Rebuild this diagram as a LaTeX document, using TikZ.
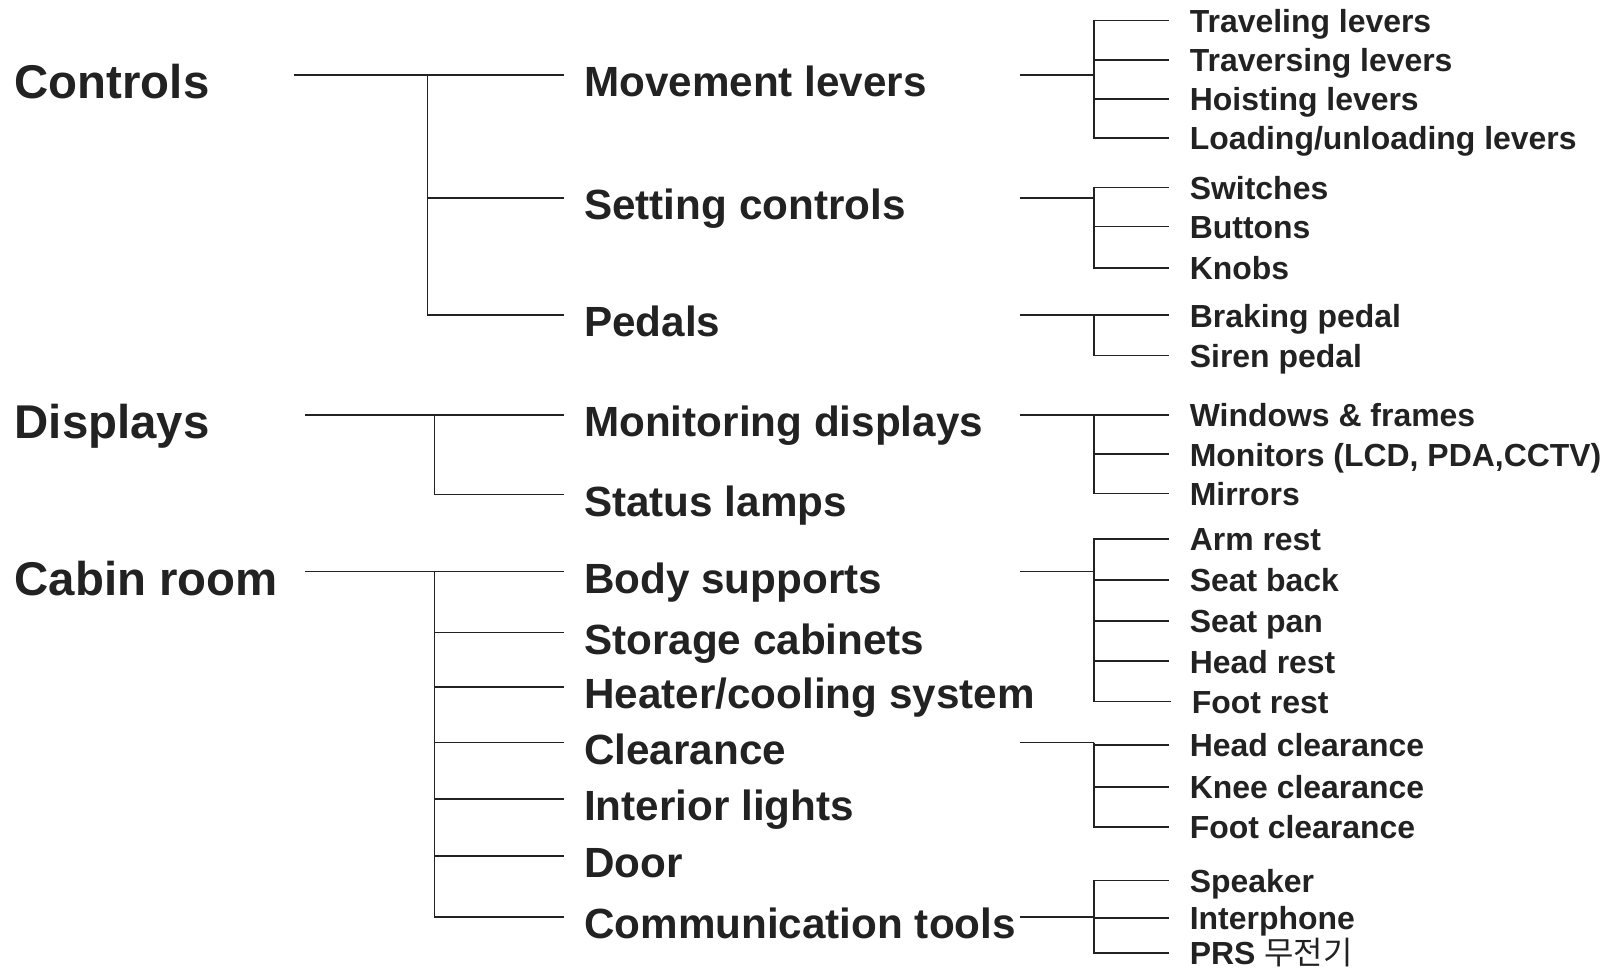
\documentclass[tikz,border=0pt]{standalone}
\usepackage{fontspec}
\setmainfont{Liberation Sans}
\newfontfamily\korfont{Noto Sans CJK KR}
\usepackage{tikz}
\usetikzlibrary{positioning,calc}
\definecolor{ink}{HTML}{222222}

\begin{document}
\begin{tikzpicture}[
    x=1pt, y=-1pt,
    every node/.style={text=ink, anchor=west, inner ysep=0pt, text depth=0pt},
    top/.style={font=\fontsize{46}{50}\selectfont\bfseries, inner xsep=0pt, text height=46pt},
    mid/.style={font=\fontsize{41}{46}\selectfont\bfseries, inner xsep=19pt, text height=42pt},
    leaf/.style={font=\fontsize{31}{35}\selectfont\bfseries, inner xsep=20pt, text height=23pt},
    link/.style={draw=ink, line width=1.6pt},
]
\useasboundingbox (0,0) rectangle (1568,942);

% Controls
\node[top] (ctl) at (14,73) {Controls};
\node[mid] (mov) at (548,73) {Movement levers};
\node[mid] (set) at (548,192) {Setting controls};
\node[mid] (pdl) at (548,306) {Pedals};

\node[leaf] (trv) at (1135,20) {Traveling levers};
\node[leaf] (trs) at (1135,58) {Traversing levers};
\node[leaf] (hoi) at (1135,96) {Hoisting levers};
\node[leaf] (lod) at (1135,134) {Loading/unloading levers};
\node[leaf] (swi) at (1135,182) {Switches};
\node[leaf] (but) at (1135,220) {Buttons};
\node[leaf] (kno) at (1135,260) {Knobs};
\node[leaf] (brk) at (1135,306) {Braking pedal};
\node[leaf] (sir) at (1135,345) {Siren pedal};

% Displays
\node[top] (dsp) at (14,403) {Displays};
\node[mid] (mon) at (548,403) {Monitoring displays};
\node[mid] (lmp) at (548,480) {Status lamps};

\node[leaf] (win) at (1135,403) {Windows \& frames};
\node[leaf] (lcd) at (1135,441) {Monitors (LCD, PDA,CCTV)};
\node[leaf] (mir) at (1135,479) {Mirrors};

% Cabin room
\node[top] (cab) at (14,555) {Cabin room};
\node[mid] (bod) at (548,555) {Body supports};
\node[mid] (sto) at (548,614) {Storage cabinets};
\node[mid] (hea) at (548,667) {Heater/cooling system};
\node[mid] (clr) at (548,721) {Clearance};
\node[mid] (lgt) at (548,776) {Interior lights};
\node[mid] (dor) at (548,831) {Door};
\node[mid] (com) at (548,890) {Communication tools};

\node[leaf] (arm) at (1135,523) {Arm rest};
\node[leaf] (sbk) at (1135,563) {Seat back};
\node[leaf] (spn) at (1135,603) {Seat pan};
\node[leaf] (hrs) at (1135,642) {Head rest};
\node[leaf] (frs) at (1137,681) {Foot rest};
\node[leaf] (hcl) at (1135,723) {Head clearance};
\node[leaf] (kcl) at (1135,764) {Knee clearance};
\node[leaf] (fcl) at (1135,803) {Foot clearance};
\node[leaf] (spk) at (1135,855) {Speaker};
\node[leaf] (iph) at (1135,891) {Interphone};
\node[leaf] (prs) at (1135,925) {PRS {\korfont\mdseries 무전기}};

% Links, first level
\coordinate (ctl-o) at (285,73);  \coordinate (ctl-j) at (415,73);
\coordinate (dsp-o) at (296,403); \coordinate (dsp-j) at (422,403);
\coordinate (cab-o) at (296,555); \coordinate (cab-j) at (422,555);
\foreach \g/\kids in {ctl/{mov,set,pdl}, dsp/{mon,lmp}, cab/{bod,sto,hea,clr,lgt,dor,com}} {
  \draw[link] (\g-o) -- (\g-j);
  \foreach \c in \kids \draw[link] (\g-j) |- (\c.west);
}

% Links, second level
\coordinate (xo) at (990,0);
\coordinate (xj) at (1062,0);
\foreach \p/\kids in {mov/{trv,trs,hoi,lod}, set/{swi,but,kno}, pdl/{brk,sir},
    mon/{win,lcd,mir}, bod/{arm,sbk,spn,hrs,frs}, clr/{hcl,kcl,fcl}, com/{spk,iph,prs}} {
  \draw[link] (\p.west -| xo) -- (\p.west -| xj);
  \foreach \c in \kids \draw[link] (\p.west -| xj) |- (\c.west);
}
\end{tikzpicture}
\end{document}
